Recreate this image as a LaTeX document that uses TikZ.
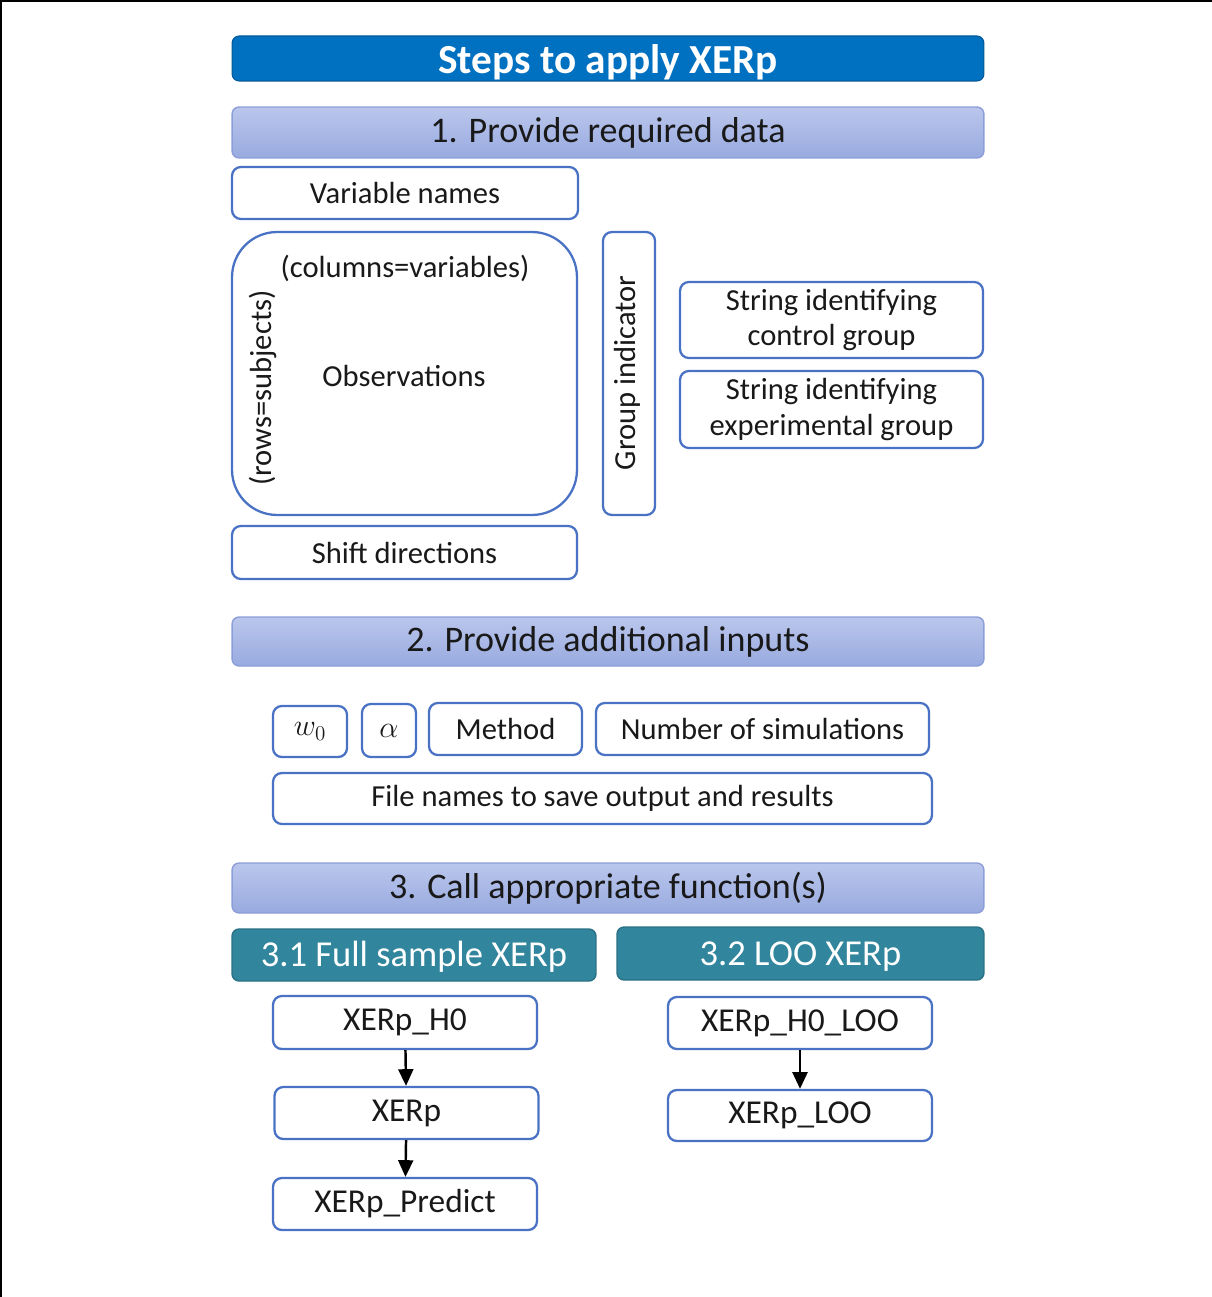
\documentclass[tikz,border=0pt]{standalone}
\usepackage{fontspec}
\setmainfont{Carlito}
\usepackage{tikz}
\usetikzlibrary{positioning,arrows.meta}

\definecolor{titleblue}{RGB}{0,112,192}
\definecolor{headtop}{RGB}{186,198,236}
\definecolor{headbot}{RGB}{152,170,223}
\definecolor{headline}{RGB}{140,158,216}
\definecolor{boxline}{RGB}{74,114,196}
\definecolor{tealfill}{RGB}{49,133,156}
\definecolor{inktext}{RGB}{25,25,25}

\tikzset{
  titlebar/.style={draw=titleblue!80!black, fill=titleblue, rounded corners=4pt,
    minimum width=15.04cm, minimum height=0.9cm, text=white,
    font=\fontsize{23.5}{26}\selectfont\bfseries, line width=0.6pt,
    inner ysep=0pt, text height=0.75cm, text depth=0.15cm},
  headbar/.style={draw=headline, top color=headtop, bottom color=headbot,
    rounded corners=4pt, minimum width=15.04cm, minimum height=1cm,
    text=inktext, font=\fontsize{20.5}{24}\selectfont, line width=0.8pt},
  subbar/.style={draw=tealfill!85!black, fill=tealfill, rounded corners=4pt,
    minimum height=1.04cm, text=white, font=\fontsize{20.8}{24}\selectfont,
    line width=0.8pt, inner ysep=1pt, text height=0.6cm, text depth=0.14cm},
  boxtext/.style={text=inktext, font=\fontsize{17.4}{20.4}\selectfont},
  inbox/.style={boxtext, draw=boxline, fill=white, rounded corners=5pt, line width=1.3pt,
    minimum height=1.04cm, align=center, inner sep=2pt},
  funbox/.style={inbox, minimum width=5.28cm, font=\fontsize{19}{22}\selectfont},
  flow/.style={line width=1.4pt, -{Triangle[width=8.5pt,length=9.5pt]}}
}

\begin{document}
\begin{tikzpicture}[x=0.02cm,y=-0.02cm]
      \useasboundingbox (0,0) rectangle (1212,1297);

      % frame edges
      \draw[line width=1.2pt] (1,1297) -- (1,1) -- (1212,1);

      % Title
      \node[titlebar] (title) at (608, 58.5) {Steps to apply XERp};

      % Step 1
      \node[headbar, minimum height=1.02cm] (step1) at (608, 132.5) {1. Provide required data};
      \node[inbox, minimum width=6.92cm] (varnames) at (405, 193) {Variable names};
      \node[inbox, minimum width=6.9cm, minimum height=5.66cm, rounded corners=0.9cm] (obs) at (404.5, 373.5) {};
      \node[boxtext] (cols) at (405, 268) {(columns=variables)};
      \node[boxtext] (obstext) at (404, 376) {Observations};
      \node[boxtext, rotate=90] (rows) at (263, 388) {(rows=subjects)};
      \node[inbox, minimum width=1.04cm, minimum height=5.66cm] (group) at (629, 373.5) {};
      \node[boxtext, rotate=90] (grouptext) at (627, 373) {Group indicator};
      \node[inbox, minimum width=6.06cm, minimum height=1.52cm] (ctrl) at (831.5, 320) {String identifying\\control group};
      \node[inbox, minimum width=6.06cm, minimum height=1.54cm] (expt) at (831.5, 409.5) {String identifying\\experimental group};
      \node[inbox, minimum width=6.9cm, minimum height=1.06cm] (shift) at (404.5, 552.5) {Shift directions};

      % Step 2
      \node[headbar, minimum height=0.98cm] (step2) at (608, 641.5) {2. Provide additional inputs};
      \node[inbox, minimum width=1.48cm, minimum height=1.02cm] (wnull) at (310, 731.5) {$w_0$};
      \node[inbox, minimum width=1.08cm, minimum height=1.06cm] (alpha) at (389, 730.5) {$\alpha$};
      \node[inbox, minimum width=3.06cm] (method) at (505.5, 729) {Method};
      \node[inbox, minimum width=6.66cm] (nsim) at (762.5, 729) {Number of simulations};
      \node[inbox, minimum width=13.18cm, minimum height=1.02cm] (files) at (602.5, 798.5) {File names to save output and results};

      % Step 3
      \node[headbar] (step3) at (608, 888) {3. Call appropriate function(s)};
      \node[subbar, minimum width=7.28cm] (full) at (414, 955) {3.1 Full sample XERp};
      \node[subbar, minimum width=7.34cm, minimum height=1.06cm] (loo) at (800.5, 953.5) {3.2 LOO XERp};

      \node[funbox, minimum height=1.06cm] (hnull) at (405, 1022.5) {XERp\_H0};
      \node[funbox] (xerp) at (406.5, 1113) {XERp};
      \node[funbox] (predict) at (405, 1204) {XERp\_Predict};
      \node[funbox] (hnullloo) at (800, 1023) {XERp\_H0\_LOO};
      \node[funbox, minimum height=1.02cm] (xerploo) at (800, 1115.5) {XERp\_LOO};

      \draw[flow] (hnull) -- (xerp);
      \draw[flow] (xerp) -- (predict);
      \draw[flow] (hnullloo) -- (xerploo);
    \end{tikzpicture}
\end{document}
